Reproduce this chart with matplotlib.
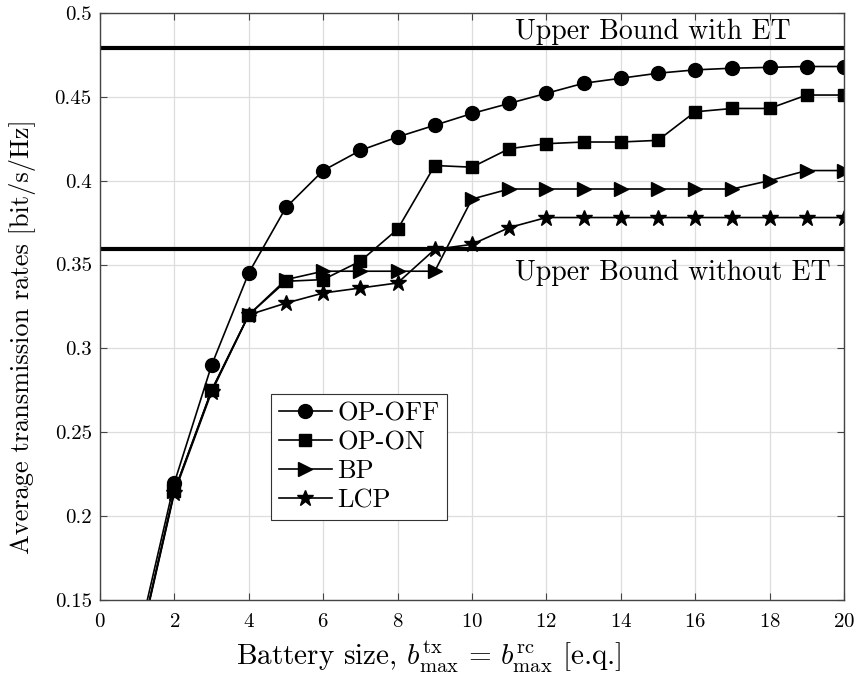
import matplotlib
matplotlib.use('Agg')
import matplotlib.pyplot as plt

plt.rcParams['font.family'] = ['cmr10', 'DejaVu Serif']
plt.rcParams['mathtext.fontset'] = 'cm'
plt.rcParams['axes.formatter.use_mathtext'] = True

battery = list(range(1, 21))

op_off = [0.124, 0.220, 0.290, 0.345, 0.384, 0.406, 0.418, 0.426, 0.433, 0.440,
          0.446, 0.452, 0.458, 0.461, 0.464, 0.466, 0.467, 0.4675, 0.468, 0.468]
op_on = [0.118, 0.215, 0.275, 0.320, 0.340, 0.341, 0.352, 0.371, 0.409, 0.408,
         0.419, 0.422, 0.423, 0.423, 0.424, 0.441, 0.443, 0.443, 0.451, 0.451]
bp = [0.118, 0.215, 0.275, 0.320, 0.341, 0.346, 0.346, 0.346, 0.346, 0.389,
      0.395, 0.395, 0.395, 0.395, 0.395, 0.395, 0.395, 0.400, 0.406, 0.406]
lcp = [0.117, 0.214, 0.274, 0.320, 0.327, 0.333, 0.336, 0.339, 0.359, 0.362,
       0.372, 0.378, 0.378, 0.378, 0.378, 0.378, 0.378, 0.378, 0.378, 0.378]

bound_et = 0.479
bound_no_et = 0.3595

series = [
    ('OP-OFF', op_off, 'o', 10),
    ('OP-ON', op_on, 's', 8),
    ('BP', bp, '>', 10),
    ('LCP', lcp, '*', 12),
]

fig = plt.figure(figsize=(8.57, 6.75), dpi=100)
ax = fig.add_axes([0.1167, 0.111, 0.868, 0.87])

ax.axhline(bound_et, color='black', linewidth=3)
ax.axhline(bound_no_et, color='black', linewidth=3)

for name, ys, mk, ms in series:
    ax.plot(battery, ys, color='black', linewidth=1.2, marker=mk,
            markersize=ms, markerfacecolor='black', markeredgecolor='black',
            label=name)

ax.text(11.15, bound_et + 0.0055, 'Upper Bound with ET', ha='left', va='baseline', fontsize=20)
ax.text(11.15, bound_no_et - 0.0185, 'Upper Bound without ET', ha='left', va='baseline', fontsize=20)

ax.set_xlim(0, 20)
ax.set_ylim(0.15, 0.5)
ax.set_xticks(range(0, 21, 2))
ax.set_yticks([0.15, 0.2, 0.25, 0.3, 0.35, 0.4, 0.45, 0.5])
ax.set_yticklabels(['0.15', '0.2', '0.25', '0.3', '0.35', '0.4', '0.45', '0.5'])
ax.tick_params(direction='in', labelsize=15, length=5, color='#444444',
               top=True, right=True, pad=6)
ax.tick_params(axis='x', pad=9)
ax.grid(color='#dddddd', linewidth=0.9)
ax.set_axisbelow(True)
for s in ax.spines.values():
    s.set_color('#444444')
    s.set_linewidth(1.0)

ax.set_xlabel(r'Battery size, $b_{\max}^{\mathrm{tx}} \,=\, b_{\max}^{\mathrm{rc}}$ [e.q.]',
              fontsize=21)
ax.xaxis.set_label_coords(0.442, -0.068)
ax.set_ylabel('Average transmission rates [bit/s/Hz]', fontsize=19)
ax.yaxis.set_label_coords(-0.086, 0.448)

leg = ax.legend(loc='lower left', bbox_to_anchor=(0.23, 0.136), fontsize=19,
                frameon=True, fancybox=False, edgecolor='#333333', framealpha=1,
                handlelength=2.0, handletextpad=0.2, borderpad=0.3,
                labelspacing=0.2, borderaxespad=0)
leg.get_frame().set_linewidth(0.8)

fig.savefig('out.png', dpi=100)
